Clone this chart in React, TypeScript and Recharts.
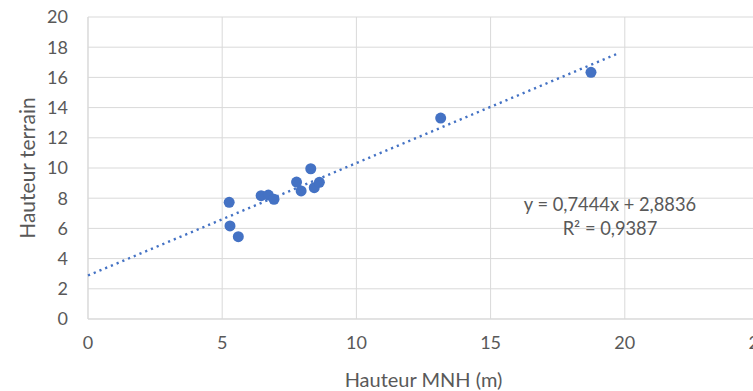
import {
  ScatterChart,
  Scatter,
  XAxis,
  YAxis,
  CartesianGrid,
} from "recharts";

// ── Data ─────────────────────────────────────────────────────────────────────
const mnhHeights = [5.26, 5.29, 5.6, 6.45, 6.72, 6.93, 7.77, 7.94, 8.3, 8.43, 8.62, 13.14, 18.74];
const fieldHeights = [7.73, 6.16, 5.45, 8.17, 8.21, 7.93, 9.07, 8.48, 9.95, 8.7, 9.05, 13.31, 16.34];

// trend line end points (as drawn)
const trendX = [0, 19.7];
const trendY = [2.88, 17.55];

const xTicks = [0, 5, 10, 15, 20, 25];
const yTicks = [0, 2, 4, 6, 8, 10, 12, 14, 16, 18, 20];

const equationText = "y = 0,7444x + 2,8836";
const r2Text = "R² = 0,9387";

const points = mnhHeights.map((x, i) => ({ x, y: fieldHeights[i] }));
const trend = trendX.map((x, i) => ({ x, y: trendY[i] }));

const BLUE = "#4472C4";
const GRID = "#d9d9d9";
const TEXT = "#595959";
const FONT = "Lato, 'Open Sans', sans-serif";

function Dot(props: any) {
  return <circle cx={props.cx} cy={props.cy} r={5.5} fill={BLUE} />;
}

function NoDot() {
  return <g />;
}

export default function App() {
  return (
    <div
      style={{
        position: "fixed",
        left: 0,
        top: 0,
        width: 753,
        height: 391,
        overflow: "hidden",
        background: "#fff",
        fontFamily: FONT,
      }}
    >
      <ScatterChart
        width={770}
        height={391}
        margin={{ top: 17, right: 11, bottom: 0, left: 0 }}
      >
        <CartesianGrid stroke={GRID} strokeWidth={1} />
        <XAxis
          type="number"
          dataKey="x"
          domain={[0, 25]}
          ticks={xTicks}
          interval={0}
          height={72}
          axisLine={{ stroke: GRID }}
          tickLine={false}
          tickMargin={11}
          tick={{ fontSize: 18, fill: TEXT, fontFamily: FONT }}
          label={{
            value: "Hauteur MNH (m)",
            position: "insideBottom",
            offset: 4,
            fontSize: 20,
            fill: TEXT,
            fontFamily: FONT,
          }}
        />
        <YAxis
          type="number"
          dataKey="y"
          domain={[0, 20]}
          ticks={yTicks}
          interval={0}
          width={88}
          axisLine={{ stroke: GRID }}
          tickLine={false}
          tickMargin={14}
          tick={{ fontSize: 18, fill: TEXT, fontFamily: FONT }}
          label={{
            value: "Hauteur terrain",
            angle: -90,
            position: "insideLeft",
            offset: 28,
            style: { textAnchor: "middle" },
            fontSize: 21,
            fill: TEXT,
            fontFamily: FONT,
          }}
        />
        <Scatter
          data={trend}
          line={{ stroke: BLUE, strokeWidth: 2.4, strokeDasharray: "2.2 4" }}
          shape={NoDot}
          isAnimationActive={false}
        />
        <Scatter data={points} shape={Dot} isAnimationActive={false} />
      </ScatterChart>
      <div
        style={{
          position: "absolute",
          left: 510,
          top: 192,
          width: 200,
          textAlign: "center",
          color: TEXT,
          fontSize: 18.3,
          lineHeight: "24px",
        }}
      >
        <div>{equationText}</div>
        <div>{r2Text}</div>
      </div>
    </div>
  );
}
